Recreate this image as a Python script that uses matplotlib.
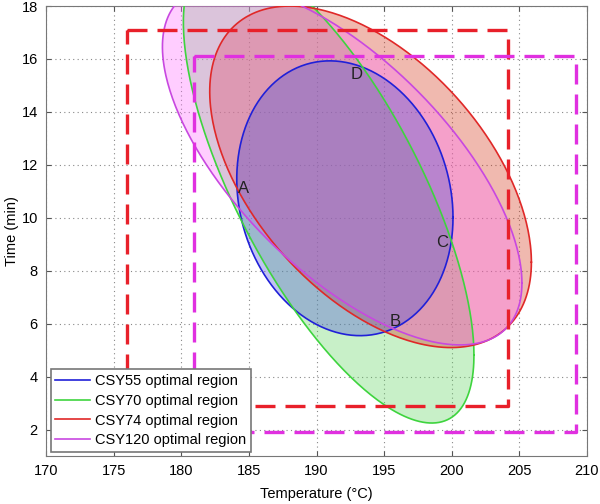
import numpy as np
import matplotlib
matplotlib.use("Agg")
import matplotlib.pyplot as plt

plt.rcParams['font.family'] = ['Liberation Sans', 'DejaVu Sans']

# optimal regions: centre, half-widths and correlation of each ellipse
labels = ['CSY55 optimal region', 'CSY70 optimal region',
          'CSY74 optimal region', 'CSY120 optimal region']
cen_T = [192.1, 190.9, 194.0, 191.9]
cen_t = [10.74, 11.1, 11.55, 12.0]
rad_T = [8.0, 10.75, 11.9, 13.3]
rad_t = [5.19, 8.85, 6.45, 6.8]
rho = [-0.14, -0.71, -0.5, -0.656]

line_cols = ['#2020d8', '#3ed43e', '#e02828', '#c848e0']
fill_cols = ['#4b50d7', '#62d462', '#d4371a', '#ff72ff']
fill_order = [1, 2, 3, 0]

# dashed boxes (T0, T1, t0, t1)
box_red = [176.0, 204.2, 2.9, 17.1]
box_mag = [180.9, 209.2, 1.9, 16.1]

# point labels
pt_names = ['A', 'B', 'C', 'D']
pt_T = [184.6, 195.8, 199.3, 193.0]
pt_t = [11.1, 6.1, 9.05, 15.4]

fig = plt.figure(figsize=(6, 5.04), dpi=100)
ax = fig.add_axes([0.077, 0.095, 0.901, 0.893])

th = np.linspace(0, 2 * np.pi, 400)
curves = []
for i in range(4):
    T = cen_T[i] + rad_T[i] * np.cos(th)
    t = cen_t[i] + rad_t[i] * np.cos(th + np.arccos(rho[i]))
    curves.append((T, t))

for k, i in enumerate(fill_order):
    ax.fill(curves[i][0], curves[i][1], color=fill_cols[i], alpha=0.35,
            lw=0, zorder=2 + k)

handles = []
for i in range(4):
    h, = ax.plot(curves[i][0], curves[i][1], color=line_cols[i], lw=1.2,
                 zorder=7, label=labels[i])
    handles.append(h)

for b, c in [(box_red, '#e8202a'), (box_mag, '#e030e0')]:
    ax.plot([b[0], b[1], b[1], b[0], b[0]], [b[3], b[3], b[2], b[2], b[3]],
            color=c, lw=2.4, dashes=(6, 3), zorder=8)

for n, x, y in zip(pt_names, pt_T, pt_t):
    ax.text(x, y, n, fontsize=12, ha='center', va='center', color='#222222',
            zorder=9)

ax.set_xlim(170, 210)
ax.set_ylim(1, 18)
ax.set_xticks(np.arange(170, 211, 5))
ax.set_yticks(np.arange(2, 19, 2))
ax.grid(True, ls=(0, (1, 3)), color='#888888', lw=0.8)
ax.tick_params(direction='in', top=True, right=True, labelsize=10.5,
               color='#555555', pad=6)
for s in ax.spines.values():
    s.set_color('#777777')
ax.set_xlabel('Temperature (°C)', fontsize=10.5, labelpad=6)
ax.set_ylabel('Time (min)', fontsize=10.5, labelpad=2)

leg = ax.legend(handles=handles, loc='lower left', fontsize=10.5,
                fancybox=False, edgecolor='#777777', framealpha=1,
                borderaxespad=0.3, handlelength=2.4, labelspacing=0.4,
                borderpad=0.3, handletextpad=0.35)
leg.get_frame().set_linewidth(1.2)
leg.set_zorder(10)

fig.savefig('out.png', dpi=100)
